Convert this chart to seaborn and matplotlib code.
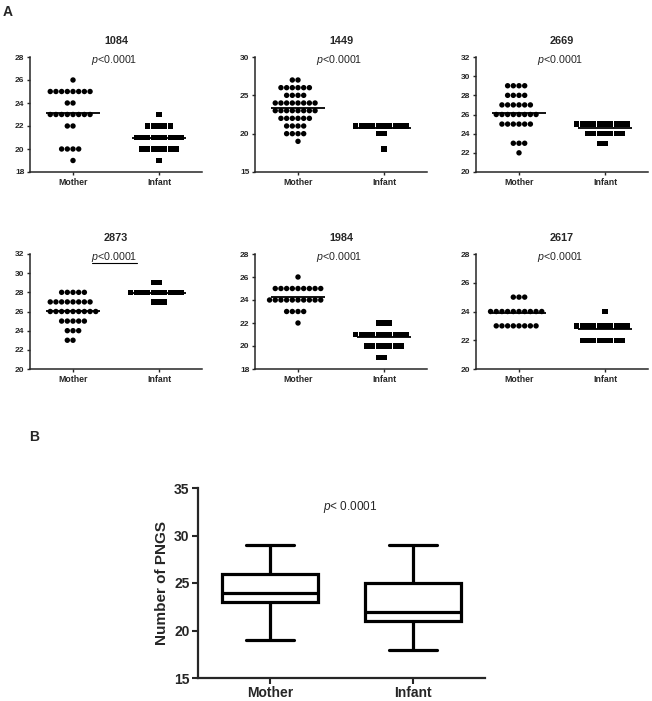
import warnings
import numpy as np
import pandas as pd
import matplotlib
matplotlib.use("Agg")
import matplotlib.pyplot as plt
import seaborn as sns

warnings.filterwarnings("ignore")

# ----------------------------
# DATA
# ----------------------------
groups = ["Mother", "Infant"]
panel_titles = ["1084", "1449", "2669", "2873", "1984", "2617"]

# PNGS level -> number of sequences drawn at that level
m1084_vals = [26, 25, 24, 23, 22, 20, 19]
m1084_n = [1, 8, 2, 8, 2, 4, 1]
i1084_vals = [23, 22, 21, 20, 19]
i1084_n = [1, 5, 9, 7, 1]

m1449_vals = [27, 26, 25, 24, 23, 22, 21, 20, 19]
m1449_n = [2, 6, 4, 8, 8, 6, 4, 4, 1]
i1449_vals = [21, 20, 18]
i1449_n = [10, 2, 1]

m2669_vals = [29, 28, 27, 26, 25, 23, 22]
m2669_n = [4, 4, 6, 8, 6, 3, 1]
i2669_vals = [25, 24, 23]
i2669_n = [10, 7, 2]

m2873_vals = [28, 27, 26, 25, 24, 23]
m2873_n = [5, 8, 9, 5, 3, 2]
i2873_vals = [29, 28, 27]
i2873_n = [2, 10, 3]

m1984_vals = [26, 25, 24, 23, 22]
m1984_n = [1, 9, 10, 4, 1]
i1984_vals = [22, 21, 20, 19]
i1984_n = [3, 10, 7, 2]

m2617_vals = [25, 24, 23]
m2617_n = [3, 10, 8]
i2617_vals = [24, 23, 22]
i2617_n = [1, 10, 8]

# group means shown by the horizontal lines (Mother, Infant)
panel_means = [(23.17, 20.96), (23.33, 20.79), (26.2, 24.6),
               (26.05, 27.96), (24.29, 20.76), (23.88, 22.8)]

panel_ylims = [(18, 28), (15, 30), (20, 32), (20, 32), (18, 28), (20, 28)]
panel_ystep = [2, 5, 2, 2, 2, 2]
p_text = "$p$<0.0001"

# panel B: five-number summaries (min, Q1, median, Q3, max)
mother_box = [19, 23, 24, 26, 29]
infant_box = [18, 21, 22, 25, 29]

panel_data = [
    (m1084_vals, m1084_n, i1084_vals, i1084_n),
    (m1449_vals, m1449_n, i1449_vals, i1449_n),
    (m2669_vals, m2669_n, i2669_vals, i2669_n),
    (m2873_vals, m2873_n, i2873_vals, i2873_n),
    (m1984_vals, m1984_n, i1984_vals, i1984_n),
    (m2617_vals, m2617_n, i2617_vals, i2617_n),
]

# ----------------------------
# STYLE
# ----------------------------
sns.set_style("ticks")
plt.rcParams["font.family"] = ["Liberation Sans", "DejaVu Sans"]
plt.rcParams["mathtext.fontset"] = "custom"
plt.rcParams["mathtext.rm"] = "Liberation Sans"
plt.rcParams["mathtext.it"] = "Liberation Sans:italic"
plt.rcParams["mathtext.bf"] = "Liberation Sans:bold"

W, H = 652, 701
fig = plt.figure(figsize=(W / 100, H / 100), dpi=100)

col_left = [30, 255, 476]
row_bottom = [172, 369]
ax_w, ax_h = 172, 115

# ----------------------------
# PANEL A: dot plots
# ----------------------------
for k, (mv, mn, iv, inn) in enumerate(panel_data):
    r, c = divmod(k, 3)
    ax = fig.add_axes([col_left[c] / W, 1 - row_bottom[r] / H, ax_w / W, ax_h / H])
    df = pd.DataFrame({
        "group": ["Mother"] * sum(mn) + ["Infant"] * sum(inn),
        "value": np.concatenate([np.repeat(mv, mn), np.repeat(iv, inn)]),
    })
    for g, mk in zip(groups, ["o", "s"]):
        sns.swarmplot(data=df[df["group"] == g], x="group", y="value", order=groups,
                      marker=mk, color="black", size=3.9, linewidth=0,
                      edgecolor="none", ax=ax)
    for i, m in enumerate(panel_means[k]):
        ax.hlines(m, i - 0.31, i + 0.31, color="black", lw=1.3, zorder=6)

    lo, hi = panel_ylims[k]
    ax.set_ylim(lo, hi)
    ax.set_yticks(np.arange(lo, hi + 0.1, panel_ystep[k]))
    ax.set_xlim(-0.5, 1.5)
    ax.set_xlabel("")
    ax.set_ylabel("")
    sns.despine(ax=ax)
    for s in ["left", "bottom"]:
        ax.spines[s].set_linewidth(1.1)
    ax.tick_params(axis="both", length=2.5, width=1.0, pad=1.5, labelsize=6)
    for lab in ax.get_xticklabels() + ax.get_yticklabels():
        lab.set_fontweight("bold")
    ax.tick_params(axis="x", labelsize=6.3)

    ax.text(0.5, 1.14, panel_titles[k], transform=ax.transAxes, ha="center",
            va="center", fontsize=7.8, fontweight="bold")
    ax.text(0.49, 0.975, p_text, transform=ax.transAxes, ha="center",
            va="center", fontsize=7.7)
    if panel_titles[k] == "2873":
        ax.plot([0.36, 0.62], [0.925, 0.925], transform=ax.transAxes,
                color="black", lw=0.8, clip_on=False)

fig.text(8 / W, 1 - 12 / H, "A", fontsize=10, fontweight="bold", ha="center", va="center")

# ----------------------------
# PANEL B: box plot
# ----------------------------
axb = fig.add_axes([198 / W, 1 - 678 / H, 287 / W, 190 / H])
box_df = pd.DataFrame({
    "group": ["Mother"] * len(mother_box) + ["Infant"] * len(infant_box),
    "value": mother_box + infant_box,
})
sns.boxplot(data=box_df, x="group", y="value", order=groups, whis=(0, 100),
            width=0.67, color="white", linecolor="black", linewidth=2.3,
            fliersize=0, ax=axb)
axb.set_xlim(-0.5, 1.5)
axb.set_ylim(15, 35)
axb.set_yticks([15, 20, 25, 30, 35])
axb.set_xlabel("")
axb.set_ylabel("Number of PNGS", fontsize=11, fontweight="bold", labelpad=4)
sns.despine(ax=axb)
for s in ["left", "bottom"]:
    axb.spines[s].set_linewidth(1.6)
axb.tick_params(axis="both", length=4, width=1.5, pad=2, labelsize=10)
for lab in axb.get_xticklabels() + axb.get_yticklabels():
    lab.set_fontweight("bold")
axb.text(0.56, 33.0, "$p$< 0.0001", ha="center", va="center", fontsize=8.5)

fig.text(34 / W, 1 - 437 / H, "B", fontsize=10, fontweight="bold", ha="center", va="center")

fig.savefig("out.png", dpi=100)
